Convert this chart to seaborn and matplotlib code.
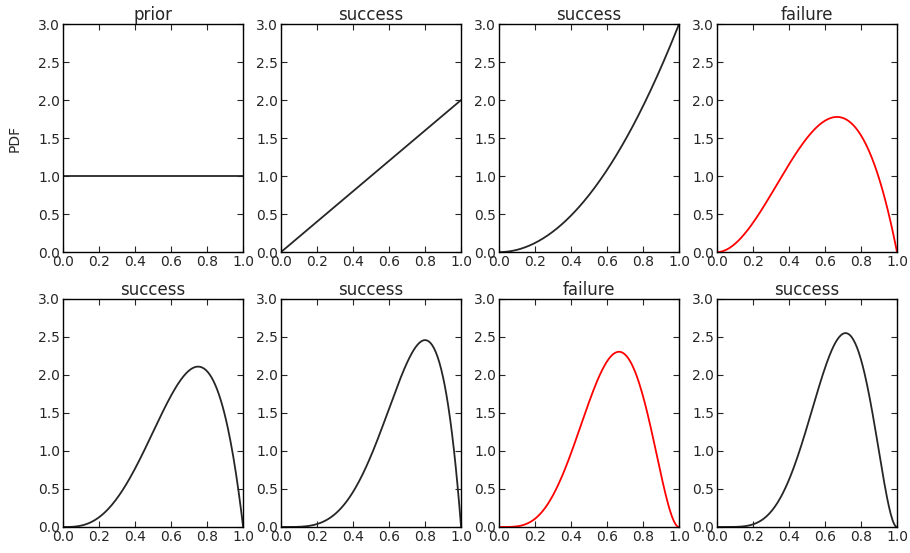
import numpy as np
import pandas as pd
import seaborn as sns
import matplotlib
matplotlib.use("Agg")
import matplotlib.pyplot as plt
from math import gamma

titles = ["prior", "success", "success", "failure", "success", "success", "failure", "success"]
alphas = [1, 2, 3, 3, 4, 5, 5, 6]
betas = [1, 1, 1, 2, 2, 2, 3, 3]
colors = ["#262626", "#262626", "#262626", "red", "#262626", "#262626", "red", "#262626"]
x_ticks = [0.0, 0.2, 0.4, 0.6, 0.8, 1.0]
y_ticks = [0.0, 0.5, 1.0, 1.5, 2.0, 2.5, 3.0]

sns.set_style("ticks")
plt.rcParams.update({
    "font.family": ["DejaVu Sans"],
    "xtick.direction": "in", "ytick.direction": "in",
    "xtick.top": True, "ytick.right": True,
    "xtick.major.size": 4, "ytick.major.size": 4,
    "axes.edgecolor": "black", "axes.linewidth": 1.0,
    "xtick.color": "#262626", "ytick.color": "#262626",
    "xtick.labelsize": 10, "ytick.labelsize": 10,
    "text.color": "#262626", "axes.labelcolor": "#262626",
})

fig, axes = plt.subplots(2, 4, figsize=(9.1, 5.53), dpi=100)
fig.subplots_adjust(left=63/910, right=897/910, top=1-24/553, bottom=1-527/553,
                    wspace=0.21, hspace=0.205)

xs = np.linspace(0, 1, 200)
for i, ax in enumerate(axes.flat):
    a, b = alphas[i], betas[i]
    norm = gamma(a + b) / (gamma(a) * gamma(b))
    df = pd.DataFrame({"x": xs, "pdf": norm * xs ** (a - 1) * (1 - xs) ** (b - 1)})
    sns.lineplot(data=df, x="x", y="pdf", ax=ax, color=colors[i], linewidth=1.3)
    ax.set_xlim(0, 1)
    ax.set_ylim(0, 3)
    ax.set_xticks(x_ticks)
    ax.set_yticks(y_ticks)
    ax.set_xticklabels([f"{t:.1f}" for t in x_ticks])
    ax.set_yticklabels([f"{t:.1f}" for t in y_ticks])
    ax.tick_params(pad=2)
    ax.set_title(titles[i], fontsize=12, pad=3)
    ax.set_xlabel("")
    ax.set_ylabel("PDF" if i == 0 else "", fontsize=10, labelpad=12)

fig.savefig("out.png", dpi=100)
